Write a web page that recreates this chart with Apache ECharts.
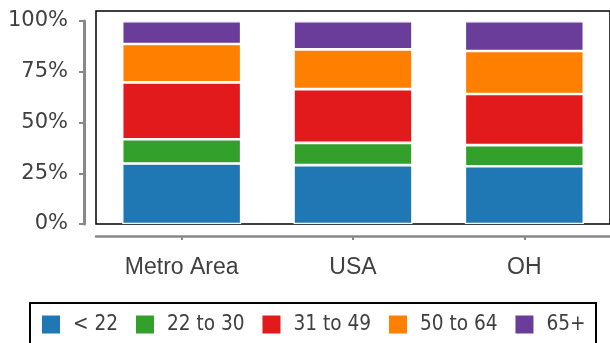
<!DOCTYPE html>
<html>
<head>
<meta charset="utf-8">
<script src="https://cdn.jsdelivr.net/npm/echarts@6/dist/echarts.min.js"></script>
<style>html,body{margin:0;padding:0;background:#fff}#c{width:610px;height:343px}</style>
</head>
<body>
<div id="c"></div>
<script>
const categories = ['Metro Area', 'USA', 'OH'];
const seriesNames = ['< 22', '22 to 30', '31 to 49', '50 to 64', '65+'];
const under22 = [29.8, 29.0, 28.5];
const age22to30 = [12.0, 11.0, 10.4];
const age31to49 = [28.0, 26.5, 25.2];
const age50to64 = [18.9, 19.6, 21.2];
const age65plus = [11.3, 13.9, 14.7];
const yTickValues = [0, 25, 50, 75, 100];

const colors = ['#1f77b4', '#33a02c', '#e31a1c', '#ff7f00', '#6a3d9a'];
const values = [under22, age22to30, age31to49, age50to64, age65plus];

const chart = echarts.init(document.getElementById('c'));
chart.setOption({
  animation: false,
  grid: [
    {left: 96, top: 11, width: 517, height: 213, show: true, borderColor: '#000', borderWidth: 1.5, backgroundColor: 'transparent'},
    {left: 84, top: 21, width: 100, height: 203, show: false},
    {left: 96, top: 11, width: 517, height: 225, show: false}
  ],
  xAxis: [
    {type: 'category', gridIndex: 0, data: categories, show: false},
    {type: 'category', gridIndex: 1, data: categories, show: false},
    {type: 'category', gridIndex: 2, data: categories,
     axisLine: {show: true, lineStyle: {color: '#888', width: 2.5}},
     axisTick: {show: true, alignWithLabel: true, length: 4, lineStyle: {color: '#888', width: 2}},
     axisLabel: {margin: 20, fontFamily: 'Liberation Sans', fontSize: 23, color: '#404040'},
     splitLine: {show: false}}
  ],
  yAxis: [
    {type: 'value', gridIndex: 0, min: 0, max: 105, show: false, splitLine: {show: false}},
    {type: 'value', gridIndex: 1, min: yTickValues[0], max: yTickValues[yTickValues.length - 1],
     interval: yTickValues[1] - yTickValues[0],
     axisLine: {show: true, lineStyle: {color: '#888', width: 3}},
     axisTick: {show: true, length: 5, lineStyle: {color: '#888', width: 2}},
     axisLabel: {margin: 16, fontFamily: 'DejaVu Sans', fontSize: 21, color: '#404040', formatter: '{value}%'},
     splitLine: {show: false}},
    {type: 'value', gridIndex: 2, min: 0, max: 100, show: false, splitLine: {show: false}}
  ],
  legend: {
    left: 42, top: 314, padding: 0, itemWidth: 18, itemHeight: 18, itemGap: 18, icon: 'rect',
    data: seriesNames,
    itemStyle: {borderWidth: 0},
    textStyle: {fontFamily: 'DejaVu Sans Condensed, DejaVu Sans', fontSize: 20.6, color: '#404040', padding: [0, 0, 0, 8]}
  },
  graphic: [
    {type: 'rect', shape: {x: 30, y: 303, width: 566, height: 50}, style: {fill: 'none', stroke: '#000', lineWidth: 2}, silent: true}
  ],
  series: seriesNames.map((name, i) => ({
    name: name, type: 'bar', stack: 'total', xAxisIndex: 0, yAxisIndex: 0,
    barWidth: 119, data: values[i],
    itemStyle: {color: colors[i], borderColor: '#fff', borderWidth: 1.3}
  }))
});
</script>
</body>
</html>
